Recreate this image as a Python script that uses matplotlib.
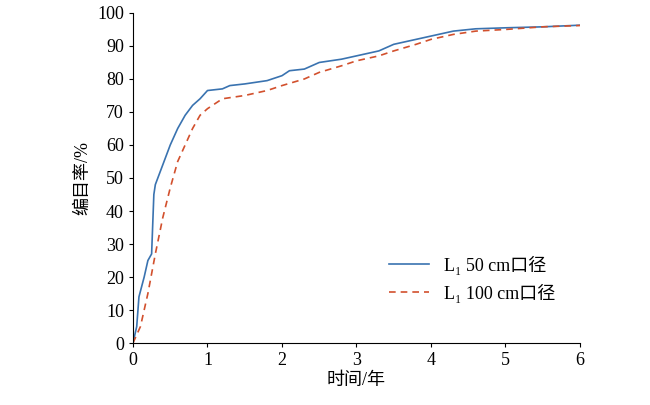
import matplotlib
matplotlib.use('Agg')
import matplotlib.pyplot as plt

plt.rcParams['font.family'] = ['Liberation Serif', 'Noto Sans CJK SC', 'DejaVu Sans']

# L1 50 cm
x50 = [0, 0.05, 0.08, 0.15, 0.2, 0.25, 0.28, 0.3, 0.4, 0.5, 0.6, 0.7, 0.8, 0.9, 1.0, 1.2, 1.3, 1.5, 1.8,
       2.0, 2.1, 2.3, 2.5, 2.8, 3.0, 3.3, 3.5, 3.8, 4.0, 4.3, 4.6, 5.0, 5.5, 6.0]
y50 = [0, 5, 14, 20, 25, 27, 45, 48, 54, 60, 65, 69, 72, 74, 76.5, 77, 78, 78.5, 79.5,
       81, 82.5, 83, 85, 86, 87, 88.5, 90.5, 92, 93, 94.5, 95.2, 95.5, 95.8, 96.3]
# L1 100 cm
x100 = [0, 0.1, 0.2, 0.3, 0.4, 0.5, 0.6, 0.7, 0.8, 0.9, 1.0, 1.2, 1.5, 1.8, 2.0, 2.3, 2.5, 2.8,
        3.0, 3.3, 3.5, 3.8, 4.0, 4.3, 4.6, 5.0, 5.5, 6.0]
y100 = [0, 5, 15, 27, 38, 47, 55, 60, 65, 69, 71, 74, 75, 76.5, 78, 80, 82, 84,
        85.5, 87, 88.5, 90.5, 92, 93.5, 94.5, 95, 95.8, 96.2]

fig = plt.figure(figsize=(6.5, 4.05), dpi=100)
ax = fig.add_axes([0.2046, 0.153, 0.6877, 0.815])
ax.plot(x50, y50, color='#3a73b0', lw=1.2, label='L\u2081 50 cm口径')
ax.plot(x100, y100, color='#d2502d', lw=1.2, ls=(0, (4, 3)), label='L\u2081 100 cm口径')
ax.set_xlim(0, 6)
ax.set_ylim(0, 100)
ax.set_xticks(range(0, 7))
ax.set_yticks(range(0, 101, 10))
ax.tick_params(labelsize=13, direction='out', length=3)
ax.spines['top'].set_visible(False)
ax.spines['right'].set_visible(False)
ax.set_xlabel('时间/年', fontsize=13, labelpad=2)
ax.set_ylabel('编目率/%', fontsize=13, labelpad=4)
ax.legend(loc='lower right', bbox_to_anchor=(0.96, 0.1), frameon=False, fontsize=13,
          handlelength=2.2, borderaxespad=0)
fig.savefig('out.png', dpi=100)
